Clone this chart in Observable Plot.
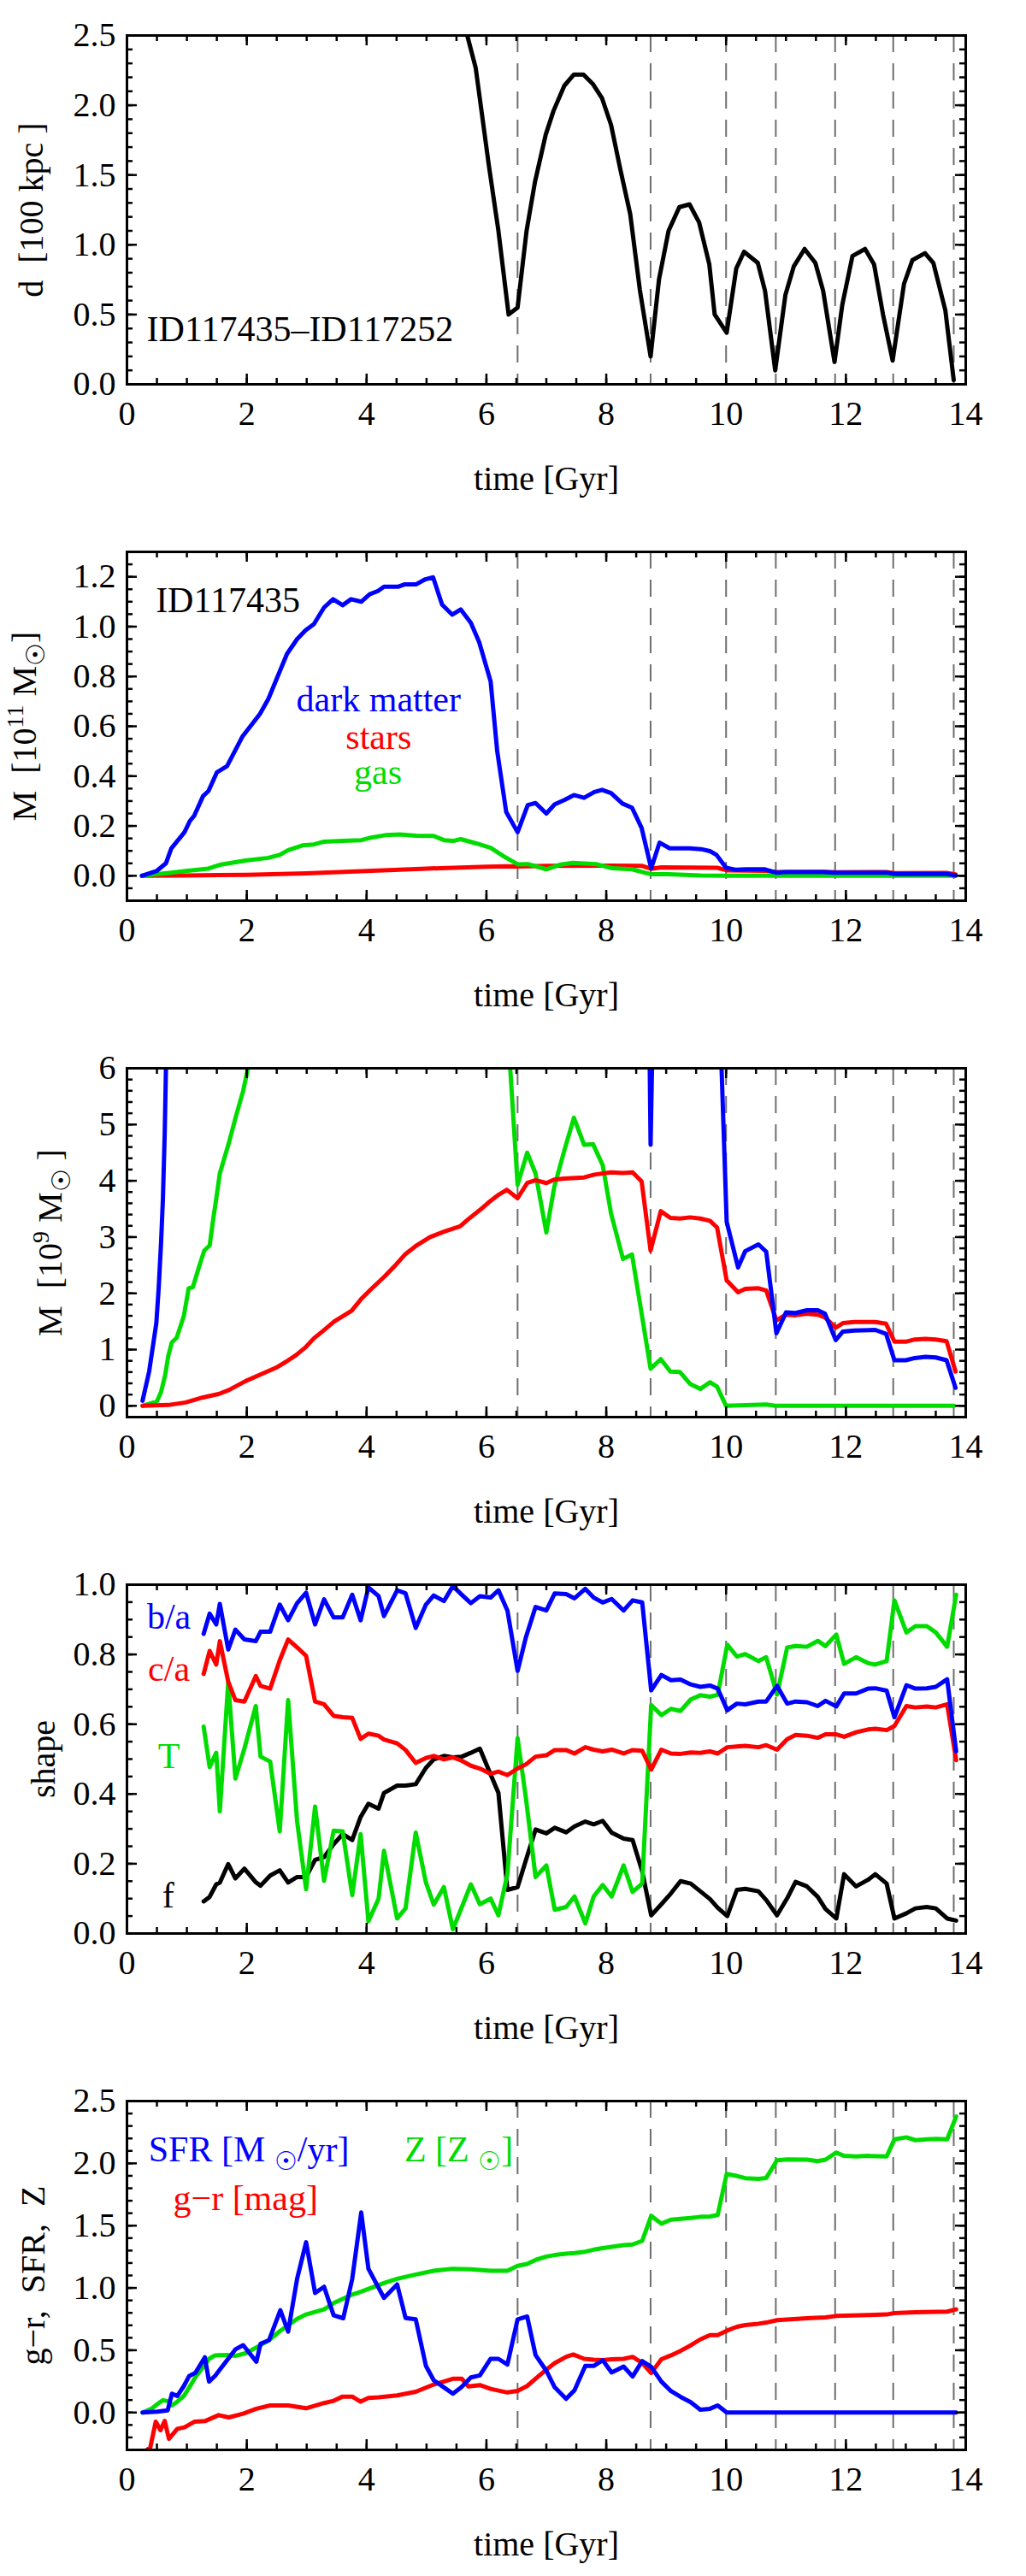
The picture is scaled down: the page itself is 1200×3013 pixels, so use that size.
<!DOCTYPE html>
<html>
<head>
<meta charset="utf-8">
<script src="https://cdn.jsdelivr.net/npm/d3@7"></script>
<script src="https://cdn.jsdelivr.net/npm/@observablehq/plot@0.6"></script>
<style>
  html, body { margin: 0; padding: 0; background: #fff; }
  #charts svg { display: block; }
</style>
</head>
<body>
<div id="charts"></div>
<script>
/* ---- Data (time in Gyr) ---- */

// snapshots of pericentre passage, drawn as dashed verticals
const pericentres = [6.52, 8.74, 10.0, 10.83, 11.82, 12.79, 13.8];

// d [100 kpc] between ID117435 and ID117252
const separation = [
  [5.68, 2.5], [5.82, 2.27], [6.04, 1.57], [6.2, 1.10], [6.37, 0.50], [6.52, 0.55],
  [6.67, 1.10], [6.81, 1.45], [6.99, 1.79], [7.12, 1.96], [7.30, 2.14], [7.46, 2.22],
  [7.62, 2.22], [7.78, 2.15], [7.93, 2.05], [8.08, 1.86], [8.24, 1.53], [8.40, 1.22],
  [8.56, 0.68], [8.74, 0.20], [8.88, 0.75], [9.04, 1.10], [9.22, 1.27], [9.39, 1.29],
  [9.55, 1.16], [9.72, 0.86], [9.81, 0.50], [10.01, 0.37], [10.17, 0.83], [10.30, 0.95],
  [10.53, 0.87], [10.65, 0.67], [10.82, 0.10], [10.99, 0.64], [11.13, 0.845], [11.31, 0.97],
  [11.49, 0.87], [11.62, 0.67], [11.81, 0.16], [11.94, 0.57], [12.11, 0.92], [12.32, 0.97],
  [12.47, 0.86], [12.62, 0.50], [12.78, 0.17], [12.97, 0.72], [13.11, 0.89], [13.32, 0.94],
  [13.46, 0.87], [13.66, 0.53], [13.80, 0.03]
];

// M [1e11 Msun]
const darkMatter11 = [
  [0.25, 0], [0.50, 0.02], [0.65, 0.05], [0.74, 0.11], [0.96, 0.175], [1.05, 0.22],
  [1.12, 0.24], [1.27, 0.32], [1.36, 0.34], [1.50, 0.415], [1.67, 0.44], [1.93, 0.56],
  [2.22, 0.65], [2.36, 0.71], [2.67, 0.89], [2.84, 0.95], [2.98, 0.985], [3.12, 1.01],
  [3.29, 1.077], [3.44, 1.11], [3.60, 1.086], [3.74, 1.11], [3.91, 1.10], [4.05, 1.13],
  [4.19, 1.143], [4.29, 1.16], [4.52, 1.16], [4.64, 1.17], [4.83, 1.17], [4.98, 1.19],
  [5.11, 1.198], [5.26, 1.088], [5.43, 1.048], [5.57, 1.069], [5.74, 1.015], [5.88, 0.937],
  [6.07, 0.78], [6.18, 0.50], [6.33, 0.256], [6.52, 0.175], [6.69, 0.284], [6.82, 0.292],
  [7.00, 0.25], [7.14, 0.287], [7.30, 0.304], [7.46, 0.324], [7.63, 0.313], [7.80, 0.336],
  [7.93, 0.345], [8.08, 0.332], [8.27, 0.29], [8.43, 0.273], [8.59, 0.192], [8.75, 0.03],
  [8.89, 0.133], [9.06, 0.11], [9.39, 0.11], [9.58, 0.107], [9.73, 0.099], [9.84, 0.084],
  [10.0, 0.032], [10.17, 0.024], [10.34, 0.026], [10.65, 0.026], [10.84, 0.012], [11.0, 0.015],
  [11.6, 0.015], [11.82, 0.012], [12.7, 0.012], [12.81, 0.007], [13.69, 0.007], [13.83, 0.001]
];
const stars11 = [
  [0.25, 0], [1.0, 0.001], [2.0, 0.004], [3.0, 0.01], [4.0, 0.019], [5.0, 0.029],
  [6.0, 0.036], [6.34, 0.038], [6.52, 0.037], [7.0, 0.04], [8.08, 0.041], [8.59, 0.04],
  [8.75, 0.028], [8.92, 0.034], [9.85, 0.032], [10.01, 0.022], [10.67, 0.02], [10.84, 0.015],
  [11.65, 0.016], [11.83, 0.014], [12.67, 0.015], [12.81, 0.011], [13.68, 0.0115], [13.83, 0.006]
];
const gas11 = [
  [0.25, 0], [0.74, 0.012], [0.98, 0.019], [1.36, 0.029], [1.55, 0.044], [1.98, 0.061],
  [2.36, 0.072], [2.55, 0.084], [2.69, 0.103], [2.93, 0.122], [3.12, 0.126], [3.29, 0.137],
  [3.60, 0.14], [3.91, 0.143], [4.05, 0.152], [4.31, 0.163], [4.55, 0.166], [4.83, 0.161],
  [5.12, 0.16], [5.29, 0.143], [5.45, 0.14], [5.57, 0.147], [5.83, 0.13], [6.07, 0.112],
  [6.29, 0.078], [6.52, 0.046], [6.69, 0.047], [7.0, 0.026], [7.22, 0.044], [7.44, 0.052],
  [7.83, 0.047], [8.10, 0.03], [8.43, 0.026], [8.75, 0.006], [9.03, 0.006], [9.58, 0.001],
  [10.0, 0], [13.83, 0]
];

// M [1e9 Msun]
const darkMatter9 = [
  [0.26, 0.09], [0.37, 0.61], [0.49, 1.47], [0.53, 2.10], [0.57, 2.92], [0.60, 3.68],
  [0.63, 4.84], [0.74, 11], [8.59, 19.2], [8.74, 4.64], [8.89, 13.3], [9.06, 11],
  [9.39, 11], [9.58, 10.7], [9.73, 9.9], [9.85, 8.4], [10.01, 3.27], [10.2, 2.46],
  [10.32, 2.75], [10.54, 2.87], [10.67, 2.74], [10.84, 1.29], [11.0, 1.66], [11.16, 1.65],
  [11.35, 1.70], [11.53, 1.70], [11.65, 1.64], [11.83, 1.17], [11.95, 1.32], [12.14, 1.34],
  [12.49, 1.35], [12.67, 1.28], [12.81, 0.81], [13.0, 0.81], [13.15, 0.85], [13.33, 0.87],
  [13.5, 0.86], [13.68, 0.81], [13.83, 0.32]
];
const stars9 = [
  [0.26, 0], [0.69, 0.015], [0.98, 0.06], [1.27, 0.15], [1.53, 0.21], [1.70, 0.28],
  [1.98, 0.44], [2.17, 0.53], [2.51, 0.69], [2.65, 0.78], [2.82, 0.90], [2.98, 1.04],
  [3.12, 1.20], [3.27, 1.33], [3.46, 1.50], [3.75, 1.69], [3.91, 1.90], [4.08, 2.08],
  [4.30, 2.30], [4.49, 2.51], [4.65, 2.70], [4.82, 2.84], [5.06, 3.00], [5.30, 3.10],
  [5.56, 3.19], [5.70, 3.32], [5.89, 3.48], [6.03, 3.61], [6.20, 3.75], [6.34, 3.84],
  [6.52, 3.69], [6.68, 3.96], [6.82, 4.01], [7.00, 3.96], [7.13, 4.02], [7.30, 4.04],
  [7.63, 4.06], [7.80, 4.11], [8.08, 4.15], [8.28, 4.14], [8.44, 4.15], [8.59, 3.99],
  [8.74, 2.76], [8.91, 3.46], [9.07, 3.34], [9.23, 3.33], [9.40, 3.35], [9.57, 3.33],
  [9.73, 3.29], [9.85, 3.17], [10.01, 2.23], [10.2, 2.02], [10.32, 2.08], [10.54, 2.09],
  [10.67, 2.05], [10.84, 1.52], [11.0, 1.62], [11.16, 1.61], [11.35, 1.64], [11.53, 1.62],
  [11.65, 1.57], [11.83, 1.39], [11.95, 1.47], [12.14, 1.49], [12.49, 1.49], [12.67, 1.46],
  [12.81, 1.14], [13.0, 1.14], [13.15, 1.18], [13.33, 1.19], [13.5, 1.18], [13.68, 1.15],
  [13.83, 0.61]
];
const gas9 = [
  [0.26, 0], [0.41, 0.05], [0.50, 0.08], [0.57, 0.25], [0.64, 0.56], [0.69, 0.89],
  [0.75, 1.13], [0.83, 1.21], [0.95, 1.60], [1.03, 2.09], [1.10, 2.11], [1.20, 2.46],
  [1.29, 2.76], [1.38, 2.85], [1.44, 3.32], [1.49, 3.68], [1.55, 4.13], [1.70, 4.67],
  [1.82, 5.15], [1.94, 5.60], [2.02, 6.0], [2.36, 7.2], [6.07, 11.2], [6.29, 7.8],
  [6.52, 3.93], [6.68, 4.50], [6.82, 4.13], [7.00, 3.08], [7.13, 3.88], [7.30, 4.54],
  [7.46, 5.12], [7.63, 4.64], [7.78, 4.65], [7.94, 4.28], [8.08, 3.42], [8.28, 2.61],
  [8.43, 2.69], [8.74, 0.66], [8.91, 0.83], [9.07, 0.61], [9.23, 0.60], [9.40, 0.39],
  [9.57, 0.30], [9.73, 0.42], [9.85, 0.34], [10.0, 0.0], [10.67, 0.025], [10.82, 0],
  [13.8, 0]
];

// shape parameters, shared time grid
const shapeTime = [
  1.28, 1.38, 1.49, 1.55, 1.69, 1.81, 1.96, 2.15, 2.23, 2.39,
  2.55, 2.69, 2.84, 2.99, 3.14, 3.29, 3.45, 3.60, 3.76, 3.90,
  4.03, 4.20, 4.29, 4.51, 4.65, 4.82, 4.99, 5.12, 5.29, 5.44,
  5.59, 5.74, 5.89, 6.07, 6.20, 6.35,
  6.52, 6.66, 6.82, 7.0, 7.14, 7.33, 7.47, 7.65, 7.79, 7.94,
  8.09, 8.29, 8.44, 8.60, 8.75, 8.92, 9.08, 9.24, 9.41, 9.57,
  9.73, 9.86, 10.02, 10.18, 10.32, 10.54, 10.67, 10.85, 11.02, 11.16,
  11.35, 11.53, 11.66, 11.84, 11.97, 12.17, 12.37, 12.49, 12.68, 12.81,
  13.01, 13.16, 13.35, 13.5, 13.69, 13.84
];
const axisRatioBA = [
  0.859, 0.917, 0.886, 0.945, 0.814, 0.871, 0.843, 0.838, 0.865, 0.865,
  0.943, 0.898, 0.947, 0.977, 0.886, 0.958, 0.906, 0.906, 0.971, 0.898,
  0.992, 0.967, 0.91, 0.984, 0.975, 0.876, 0.943, 0.969, 0.953, 0.996,
  0.971, 0.947, 0.967, 0.963, 0.984, 0.926,
  0.753, 0.85, 0.936, 0.926, 0.975, 0.973, 0.961, 0.988, 0.963, 0.949,
  0.959, 0.926, 0.955, 0.949, 0.697, 0.741, 0.726, 0.728, 0.714, 0.707,
  0.711, 0.702, 0.64, 0.659, 0.657, 0.665, 0.665, 0.71, 0.659, 0.665,
  0.663, 0.652, 0.667, 0.651, 0.688, 0.688, 0.702, 0.703, 0.696, 0.62,
  0.712, 0.702, 0.703, 0.707, 0.729, 0.522
];
const axisRatioCA = [
  0.744, 0.81, 0.771, 0.838, 0.722, 0.669, 0.665, 0.738, 0.71, 0.702,
  0.783, 0.843, 0.82, 0.796, 0.665, 0.657, 0.624, 0.62, 0.618, 0.558,
  0.573, 0.567, 0.556, 0.545, 0.526, 0.489, 0.503, 0.509, 0.499, 0.505,
  0.495, 0.481, 0.473, 0.458, 0.464, 0.454,
  0.473, 0.485, 0.507, 0.511, 0.526, 0.526, 0.516, 0.534, 0.527, 0.522,
  0.527, 0.516, 0.526, 0.524, 0.47, 0.527, 0.516, 0.515, 0.519, 0.518,
  0.522, 0.516, 0.534, 0.536, 0.538, 0.534, 0.54, 0.527, 0.557, 0.569,
  0.567, 0.561, 0.571, 0.571, 0.564, 0.577, 0.585, 0.587, 0.583, 0.595,
  0.652, 0.648, 0.651, 0.648, 0.657, 0.497
];
const triaxiality = [
  0.593, 0.477, 0.518, 0.35, 0.72, 0.444, 0.53, 0.652, 0.507, 0.493,
  0.293, 0.669, 0.321, 0.127, 0.364, 0.151, 0.295, 0.293, 0.11, 0.285,
  0.035, 0.10, 0.237, 0.043, 0.072, 0.289, 0.146, 0.083, 0.133, 0.012,
  0.076, 0.141, 0.084, 0.10, 0.052, 0.17,
  0.56, 0.387, 0.162, 0.195, 0.068, 0.076, 0.106, 0.029, 0.106, 0.139,
  0.106, 0.195, 0.119, 0.143, 0.655, 0.626, 0.644, 0.638, 0.671, 0.683,
  0.679, 0.684, 0.828, 0.794, 0.801, 0.781, 0.792, 0.685, 0.82, 0.824,
  0.822, 0.839, 0.824, 0.857, 0.773, 0.792, 0.775, 0.771, 0.781, 0.955,
  0.863, 0.881, 0.881, 0.863, 0.822, 0.971
];
const rotationF = [
  0.092, 0.105, 0.141, 0.146, 0.199, 0.158, 0.186, 0.147, 0.137, 0.166,
  0.181, 0.146, 0.162, 0.162, 0.211, 0.219, 0.256, 0.285, 0.268, 0.334,
  0.372, 0.358, 0.403, 0.424, 0.424, 0.428, 0.475, 0.499, 0.509, 0.505,
  0.507, 0.518, 0.53, 0.456, 0.403, 0.125,
  0.133, 0.211, 0.298, 0.287, 0.303, 0.29, 0.307, 0.321, 0.313, 0.323,
  0.289, 0.272, 0.268, 0.178, 0.052, 0.084, 0.115, 0.15, 0.143, 0.121,
  0.099, 0.074, 0.05, 0.125, 0.128, 0.121, 0.096, 0.052, 0.101, 0.148,
  0.135, 0.105, 0.07, 0.043, 0.17, 0.135, 0.154, 0.17, 0.143, 0.043,
  0.058, 0.072, 0.076, 0.072, 0.043, 0.037
];

// SFR [Msun/yr], Z [Zsun], g-r [mag]
const sfr = [
  [0.26, 0], [0.51, 0.007], [0.68, 0.018], [0.75, 0.151], [0.84, 0.133], [0.95, 0.213],
  [1.04, 0.294], [1.14, 0.317], [1.30, 0.443], [1.37, 0.248], [1.47, 0.294], [1.81, 0.507],
  [1.94, 0.541], [2.16, 0.408], [2.23, 0.553], [2.37, 0.58], [2.56, 0.821], [2.69, 0.649],
  [2.84, 1.073], [2.99, 1.367], [3.14, 0.959], [3.29, 1.009], [3.45, 0.78], [3.61, 0.757],
  [3.76, 1.073], [3.91, 1.606], [4.03, 1.154], [4.29, 0.92], [4.51, 1.028], [4.65, 0.759],
  [4.82, 0.748], [4.99, 0.374], [5.12, 0.259], [5.29, 0.202], [5.44, 0.151], [5.58, 0.202],
  [5.74, 0.282], [5.89, 0.298], [6.07, 0.431], [6.20, 0.431], [6.35, 0.385], [6.52, 0.748],
  [6.68, 0.771], [6.82, 0.461], [7.0, 0.335], [7.14, 0.202], [7.33, 0.11], [7.47, 0.179],
  [7.65, 0.374], [7.79, 0.374], [7.94, 0.42], [8.09, 0.321], [8.29, 0.369], [8.44, 0.289],
  [8.60, 0.413], [8.75, 0.367], [8.92, 0.248], [9.08, 0.172], [9.24, 0.126], [9.41, 0.083],
  [9.57, 0.023], [9.73, 0.03], [9.86, 0.057], [10.01, 0], [13.84, 0]
];
const metallicity = [
  [0.26, 0], [0.41, 0.03], [0.51, 0.069], [0.60, 0.099], [0.68, 0.092], [0.75, 0.057],
  [0.84, 0.087], [0.95, 0.133], [1.04, 0.202], [1.14, 0.282], [1.30, 0.385], [1.37, 0.431],
  [1.47, 0.459], [1.70, 0.461], [1.81, 0.454], [1.99, 0.477], [2.16, 0.523], [2.37, 0.58],
  [2.56, 0.656], [2.84, 0.752], [2.99, 0.787], [3.29, 0.828], [3.45, 0.878], [3.76, 0.947],
  [3.91, 0.97], [4.29, 1.039], [4.51, 1.073], [4.82, 1.108], [5.12, 1.138], [5.44, 1.154],
  [5.74, 1.149], [6.07, 1.138], [6.35, 1.138], [6.52, 1.177], [6.68, 1.193], [6.83, 1.227],
  [7.0, 1.252], [7.14, 1.264], [7.33, 1.275], [7.47, 1.28], [7.65, 1.291], [7.79, 1.307],
  [7.94, 1.319], [8.09, 1.33], [8.29, 1.344], [8.44, 1.349], [8.60, 1.378], [8.75, 1.578],
  [8.92, 1.516], [9.08, 1.548], [9.24, 1.555], [9.41, 1.562], [9.57, 1.571], [9.73, 1.573],
  [9.86, 1.585], [10.01, 1.915], [10.18, 1.899], [10.32, 1.881], [10.54, 1.876], [10.67, 1.883],
  [10.85, 2.025], [11.02, 2.032], [11.35, 2.03], [11.53, 2.018], [11.66, 2.03], [11.84, 2.087],
  [11.97, 2.06], [12.17, 2.055], [12.37, 2.06], [12.68, 2.055], [12.81, 2.193], [13.01, 2.209],
  [13.16, 2.186], [13.35, 2.193], [13.5, 2.197], [13.69, 2.193], [13.84, 2.376]
];
const colourGR = [
  [0.26, -0.326], [0.39, -0.28], [0.48, -0.073], [0.56, -0.142], [0.63, -0.067], [0.70, -0.211],
  [0.84, -0.131], [0.96, -0.119], [1.13, -0.073], [1.30, -0.069], [1.53, -0.021], [1.70, -0.039],
  [1.94, -0.009], [2.16, 0.03], [2.39, 0.057], [2.69, 0.057], [2.99, 0.034], [3.29, 0.076],
  [3.45, 0.094], [3.60, 0.128], [3.76, 0.128], [3.90, 0.087], [4.03, 0.117], [4.20, 0.122],
  [4.51, 0.138], [4.82, 0.167], [5.12, 0.225], [5.44, 0.271], [5.59, 0.271], [5.70, 0.209],
  [5.89, 0.22], [6.07, 0.19], [6.35, 0.161], [6.52, 0.174], [6.68, 0.213], [6.83, 0.275],
  [7.0, 0.344], [7.14, 0.397], [7.33, 0.447], [7.45, 0.466], [7.63, 0.431], [7.79, 0.424],
  [7.94, 0.42], [8.09, 0.427], [8.29, 0.431], [8.44, 0.447], [8.60, 0.397], [8.75, 0.317],
  [8.92, 0.427], [9.08, 0.459], [9.24, 0.495], [9.41, 0.539], [9.57, 0.587], [9.73, 0.622],
  [9.86, 0.622], [10.01, 0.656], [10.18, 0.688], [10.32, 0.702], [10.54, 0.713], [10.67, 0.722],
  [10.85, 0.741], [11.35, 0.757], [11.66, 0.764], [11.84, 0.775], [12.37, 0.782], [12.68, 0.787],
  [12.81, 0.798], [13.16, 0.805], [13.69, 0.81], [13.84, 0.828]
];

// ticks
const timeMajor = d3.range(0, 14.01, 2);
const timeMinor = d3.range(0, 14.01, 0.5);

/* ---- Styling ---- */
const BLUE = '#0000ff', RED = '#ff0000', GREEN = '#00dc00', BLACK = '#000000';
const SERIF = "'Liberation Serif', 'Times New Roman', serif";
const FRAME_W = 981, FRAME_H = 408;
const MAJOR = 12, MINOR = 7;

const series = (data, stroke) =>
  Plot.line(data, { x: d => d[0], y: d => d[1], stroke, strokeWidth: 5, clip: true });

const note = (text, x, y, fill, anchor = 'start') =>
  Plot.text([text], { text: d => d, x, y, fill, textAnchor: anchor, lineAnchor: 'bottom', fontSize: 42 });

// turns ^{..} and _{..} into raised / lowered tspans
function richText(svg) {
  svg.querySelectorAll('text').forEach(el => {
    const s = el.textContent;
    if (!/[\^_]\{/.test(s)) return;
    const parts = s.split(/([\^_]\{[^}]*\})/).filter(p => p);
    el.textContent = '';
    let shift = 0;
    for (const p of parts) {
      const ts = document.createElementNS('http://www.w3.org/2000/svg', 'tspan');
      let target = 0, txt = p;
      if (p.startsWith('^{')) { target = -15; txt = p.slice(2, -1); ts.setAttribute('font-size', '28'); }
      else if (p.startsWith('_{')) { target = 10; txt = p.slice(2, -1); ts.setAttribute('font-size', '30'); }
      ts.setAttribute('dy', target - shift);
      shift = target;
      ts.textContent = txt;
      el.appendChild(ts);
    }
  });
}

function panel({ height, yDomain, yMajor, yMinor, yFormat, yLabel, yLabelOffset, marks }) {
  const tickStyle = { stroke: BLACK, strokeWidth: 2.5 };
  const chart = Plot.plot({
    width: 1200,
    height,
    marginLeft: 148,
    marginRight: 71,
    marginTop: 41,
    marginBottom: height - 41 - FRAME_H,
    style: { background: '#fff', color: BLACK, fontFamily: SERIF, fontSize: '40px' },
    x: { domain: [0, 14] },
    y: { domain: yDomain },
    marks: [
      Plot.ruleX(pericentres, { stroke: '#6e6e6e', strokeWidth: 2, strokeDasharray: '20,13' }),
      ...marks,
      // inward frame ticks on all four sides
      Plot.ruleX(timeMinor, { ...tickStyle, insetTop: FRAME_H - MINOR }),
      Plot.ruleX(timeMinor, { ...tickStyle, insetBottom: FRAME_H - MINOR }),
      Plot.ruleX(timeMajor, { ...tickStyle, insetTop: FRAME_H - MAJOR }),
      Plot.ruleX(timeMajor, { ...tickStyle, insetBottom: FRAME_H - MAJOR }),
      Plot.ruleY(yMinor, { ...tickStyle, insetRight: FRAME_W - MINOR }),
      Plot.ruleY(yMinor, { ...tickStyle, insetLeft: FRAME_W - MINOR }),
      Plot.ruleY(yMajor, { ...tickStyle, insetRight: FRAME_W - MAJOR }),
      Plot.ruleY(yMajor, { ...tickStyle, insetLeft: FRAME_W - MAJOR }),
      Plot.frame({ stroke: BLACK, strokeWidth: 3 }),
      Plot.axisX({ ticks: timeMajor, tickSize: 0, tickPadding: 19, tickFormat: d3.format('d'), label: null }),
      Plot.axisY({ ticks: yMajor, tickSize: 0, tickPadding: 13, tickFormat: yFormat, label: null }),
      Plot.text(['time [Gyr]'], { text: d => d, frameAnchor: 'bottom', lineAnchor: 'bottom', dy: 123, fontSize: 40 }),
      Plot.text([yLabel], {
        text: d => d, frameAnchor: 'left', rotate: -90, dx: -yLabelOffset,
        lineAnchor: 'top', textAnchor: 'middle', fontSize: 40
      })
    ]
  });
  richText(chart);
  return chart;
}

const f1 = d3.format('.1f');
const byTime = values => values.map((v, i) => [shapeTime[i], v]);

const charts = [
  panel({
    height: 604, yDomain: [0, 2.5],
    yMajor: d3.range(0, 2.51, 0.5), yMinor: d3.range(0, 2.51, 0.1), yFormat: f1,
    yLabel: 'd  [100 kpc ]', yLabelOffset: 127,
    marks: [
      series(separation, BLACK),
      note('ID117435\u2013ID117252', 0.33, 0.31, BLACK)
    ]
  }),
  panel({
    height: 604, yDomain: [-0.1, 1.3],
    yMajor: d3.range(0, 1.21, 0.2), yMinor: d3.range(-0.1, 1.31, 0.05), yFormat: f1,
    yLabel: 'M  [10^{11} M_{\u2609}]', yLabelOffset: 135,
    marks: [
      series(stars11, RED),
      series(gas11, GREEN),
      series(darkMatter11, BLUE),
      note('ID117435', 0.48, 1.057, BLACK),
      note('dark matter', 4.2, 0.66, BLUE, 'middle'),
      note('stars', 4.2, 0.508, RED, 'middle'),
      note('gas', 4.19, 0.367, GREEN, 'middle')
    ]
  }),
  panel({
    height: 604, yDomain: [-0.2, 6],
    yMajor: d3.range(0, 6.01, 1), yMinor: d3.range(0, 6.01, 0.2), yFormat: d3.format('d'),
    yLabel: 'M  [10^{9} M_{\u2609} ]', yLabelOffset: 105,
    marks: [
      series(gas9, GREEN),
      series(stars9, RED),
      series(darkMatter9, BLUE)
    ]
  }),
  panel({
    height: 604, yDomain: [0, 1],
    yMajor: d3.range(0, 1.01, 0.2), yMinor: d3.range(0, 1.01, 0.05), yFormat: f1,
    yLabel: 'shape', yLabelOffset: 113,
    marks: [
      series(byTime(rotationF), BLACK),
      series(byTime(triaxiality), GREEN),
      series(byTime(axisRatioCA), RED),
      series(byTime(axisRatioBA), BLUE),
      note('b/a', 0.70, 0.873, BLUE, 'middle'),
      note('c/a', 0.70, 0.724, RED, 'middle'),
      note('T', 0.70, 0.475, GREEN, 'middle'),
      note('f', 0.69, 0.074, BLACK, 'middle')
    ]
  }),
  panel({
    height: 597, yDomain: [-0.3, 2.5],
    yMajor: d3.range(0, 2.51, 0.5), yMinor: d3.range(-0.3, 2.51, 0.1), yFormat: f1,
    yLabel: 'g\u2212r,  SFR,  Z', yLabelOffset: 125,
    marks: [
      series(colourGR, RED),
      series(metallicity, GREEN),
      series(sfr, BLUE),
      note('SFR [M _{\u2609}/yr]', 0.36, 2.018, BLUE),
      note('Z [Z _{\u2609}]', 4.63, 2.018, GREEN),
      note('g\u2212r [mag]', 0.77, 1.624, RED)
    ]
  })
];

const host = document.getElementById('charts');
charts.forEach(c => host.appendChild(c));
</script>
</body>
</html>
